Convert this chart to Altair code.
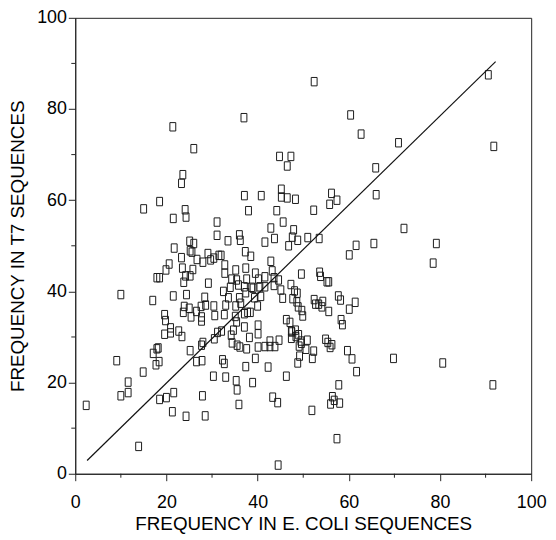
import altair as alt
import pandas as pd

# Frequency in E. coli sequences (x) vs frequency in T7 sequences (y)
x_vals = [
    90.6, 52.4, 60.4, 37.0, 21.4, 62.7, 70.9, 91.8, 26.0, 44.8, 47.3, 46.5, 65.9, 23.6, 23.3, 45.2,
    15.0, 18.5, 24.1, 24.3, 21.5, 37.1, 40.8, 45.2, 46.5, 48.3, 38.0, 44.2, 31.1, 45.6, 66.0, 56.2,
    55.8, 57.4, 52.3, 72.1,
    42.9, 47.9, 47.6, 48.8, 46.8, 43.7, 41.6, 31.1, 33.5, 36.0, 36.2, 25.1, 26.0, 65.5, 61.6, 79.2,
    51.0, 53.5,
    21.7, 25.2, 25.6, 23.3, 26.7, 28.0, 29.1, 29.7, 30.4, 31.5, 32.0, 37.3, 38.5, 32.8, 42.9, 20.6,
    60.1, 78.5,
    32.8, 35.2, 37.4, 39.5, 43.2, 19.9, 23.5, 25.8, 17.9, 18.5, 24.2, 25.2, 23.8, 29.2, 34.3, 35.4,
    37.6, 40.2, 41.6, 43.6, 44.6, 49.6, 34.0, 35.8, 37.1, 38.7, 40.5, 41.6, 43.6, 45.1, 47.3, 48.1,
    53.8, 55.2, 55.6, 53.6, 39.0, 32.5,
    10.0, 17.0, 21.5, 24.4, 28.4, 33.6, 36.0, 37.4, 39.3, 40.7, 45.5, 47.7, 48.6, 49.7, 23.9, 23.7,
    25.0, 26.6, 27.6, 28.6, 30.4, 33.0, 35.2, 36.3, 37.8, 38.4, 40.0, 48.7, 58.2, 61.4, 60.1, 52.7,
    53.4, 54.3, 54.1, 55.6, 48.9, 57.7, 52.4,
    19.6, 25.4, 27.7, 27.7, 30.6, 32.7, 35.1, 37.1, 19.8, 47.1, 49.9, 58.6, 48.3, 20.9, 20.9, 19.6,
    22.7, 23.4, 31.2, 32.1, 34.2, 34.7, 35.4, 37.1, 40.1, 40.1, 46.3, 47.5, 49.0, 58.3, 47.4, 38.2,
    30.5, 34.4, 35.5, 36.1, 37.6, 40.1, 41.6, 42.7, 42.7, 43.8, 44.7, 48.4, 47.4, 49.5, 49.1, 50.6,
    49.6, 50.9, 52.3, 49.2, 54.9, 55.4, 55.9, 56.3, 59.7, 60.7, 61.7, 69.8, 80.6, 39.5, 37.4, 42.3,
    48.8, 52.0, 17.1, 17.9, 18.2, 17.7, 18.4, 25.2, 26.6, 27.8, 28.0, 27.7, 32.3, 32.7, 9.1, 14.9,
    30.3, 33.0, 35.3, 35.5, 35.9, 38.9, 46.3, 43.3, 44.4, 44.5, 57.8, 56.8, 56.0, 58.0, 57.4, 51.9,
    91.6, 2.4, 10.0, 11.6, 11.6, 13.9, 18.5, 20.0, 21.6, 21.3, 24.3, 28.5, 27.9, 56.4,
]
y_vals = [
    87.5, 86.0, 78.7, 78.1, 76.1, 74.5, 72.6, 71.8, 71.3, 69.6, 69.6, 67.5, 67.1, 65.6, 63.7, 62.4,
    58.1, 59.7, 57.9, 56.3, 56.0, 61.0, 61.0, 60.7, 60.5, 60.2, 57.7, 57.7, 55.2, 55.2, 61.2, 61.5,
    59.1, 60.0, 57.8, 53.8,
    53.9, 53.5, 51.9, 51.2, 50.0, 51.6, 50.8, 52.3, 51.1, 52.4, 51.2, 51.0, 50.5, 50.5, 50.1, 50.5,
    51.8, 51.6,
    49.5, 48.9, 48.6, 47.4, 47.0, 46.4, 48.3, 46.9, 47.3, 47.9, 47.9, 48.7, 47.7, 45.8, 46.6, 46.0,
    48.0, 46.2,
    44.0, 44.7, 45.1, 44.0, 44.5, 44.7, 45.1, 44.8, 43.0, 43.0, 43.4, 43.4, 42.0, 41.8, 42.7, 42.5,
    42.7, 42.7, 43.2, 43.0, 42.5, 43.8, 40.9, 41.4, 41.0, 40.9, 41.0, 41.0, 41.3, 40.3, 41.5, 40.1,
    43.3, 42.1, 42.1, 44.2, 40.7, 40.0,
    39.3, 38.0, 39.0, 39.3, 38.7, 38.6, 38.6, 39.7, 38.6, 38.9, 38.5, 38.4, 37.7, 35.8, 36.7, 35.4,
    36.3, 35.6, 36.7, 37.0, 36.8, 37.0, 36.8, 37.4, 35.4, 35.4, 36.8, 39.6, 38.1, 37.6, 36.1, 37.2,
    37.2, 37.8, 36.6, 35.6, 36.6, 39.0, 38.2,
    34.9, 34.4, 34.4, 33.5, 34.7, 34.9, 34.5, 35.1, 33.6, 33.2, 34.6, 32.7, 31.5, 32.0, 30.9, 30.6,
    31.3, 30.1, 31.0, 31.3, 30.4, 31.5, 33.3, 32.2, 32.6, 30.7, 33.8, 31.1, 30.5, 33.8, 31.3, 29.9,
    29.6, 28.7, 28.2, 27.8, 27.4, 27.8, 27.9, 29.1, 27.9, 27.9, 29.3, 30.1, 29.7, 29.1, 28.0, 27.3,
    28.6, 29.3, 26.9, 25.8, 29.5, 28.8, 27.7, 28.3, 27.0, 25.2, 22.4, 25.3, 24.3, 25.3, 23.5, 23.4,
    24.3, 25.3, 26.4, 27.4, 27.6, 23.9, 24.6, 27.0, 24.6, 24.8, 28.8, 28.2, 25.0, 24.2, 24.8, 22.3,
    21.4, 21.2, 20.4, 18.4, 15.2, 20.0, 21.4, 16.8, 15.6, 1.9, 19.5, 16.1, 15.3, 15.5, 7.7, 13.9,
    19.5, 15.0, 17.1, 20.1, 17.8, 6.0, 16.3, 16.7, 17.8, 13.6, 12.6, 12.7, 17.1, 16.9,
]

# Fitted line end points
line_x = [2.6, 92.2]
line_y = [2.9, 90.4]

major_ticks = [0, 20, 40, 60, 80, 100]
minor_ticks = [10, 30, 50, 70, 90]

x_title = "FREQUENCY IN E. COLI SEQUENCES"
y_title = "FREQUENCY IN T7 SEQUENCES"

W, H = 461, 461
FONT = "Liberation Sans"

pts = pd.DataFrame({"x": x_vals, "y": y_vals})
ln = pd.DataFrame({"x": line_x, "y": line_y})
mn = pd.DataFrame({"m": minor_ticks})

xs = alt.Scale(domain=[0, 100], nice=False, zero=False)
ys = alt.Scale(domain=[0, 100], nice=False, zero=False)

x_axis = alt.Axis(values=major_ticks, title=x_title, grid=False, tickSize=7,
                  labelPadding=13, titlePadding=3, labelFlush=False, labelOverlap=False,
                  labelBound=False, domainColor="#222", tickColor="#222")
y_axis = alt.Axis(values=major_ticks, title=y_title, grid=False, tickSize=7,
                  labelPadding=2, titlePadding=9, labelFlush=False, labelOverlap=False,
                  labelBound=False, domainColor="#222", tickColor="#222")

rect_shape = "M-0.7,-1L0.7,-1L0.7,1L-0.7,1Z"

points = alt.Chart(pts).mark_point(
    shape=rect_shape, filled=False, size=72, stroke="#1a1a1a", strokeWidth=1.0, opacity=1
).encode(
    x=alt.X("x:Q", scale=xs, axis=x_axis),
    y=alt.Y("y:Q", scale=ys, axis=y_axis),
)

line = alt.Chart(ln).mark_line(color="#111", strokeWidth=1.2).encode(
    x=alt.X("x:Q", scale=xs, axis=x_axis),
    y=alt.Y("y:Q", scale=ys, axis=y_axis),
)

minor_x = alt.Chart(mn).mark_rule(color="#222", strokeWidth=1).encode(
    x=alt.X("m:Q", scale=xs, axis=x_axis),
    y=alt.value(H),
    y2=alt.value(H + 4),
)

minor_y = alt.Chart(mn).mark_rule(color="#222", strokeWidth=1).encode(
    y=alt.Y("m:Q", scale=ys, axis=y_axis),
    x=alt.value(0),
    x2=alt.value(-4),
)

chart = alt.layer(points, line, minor_x, minor_y).properties(
    width=W, height=H,
    autosize=alt.AutoSizeParams(type="none"),
    padding={"left": 68, "top": 7, "right": 17, "bottom": 60},
    background="white",
).configure_view(
    stroke="#222", strokeWidth=1
).configure_axis(
    labelFont=FONT, titleFont=FONT, labelFontSize=18, titleFontSize=19,
    labelColor="#000", titleColor="#000", titleFontWeight="normal",
)

chart.save("out.html", embed_options={"renderer": "svg", "actions": False})
